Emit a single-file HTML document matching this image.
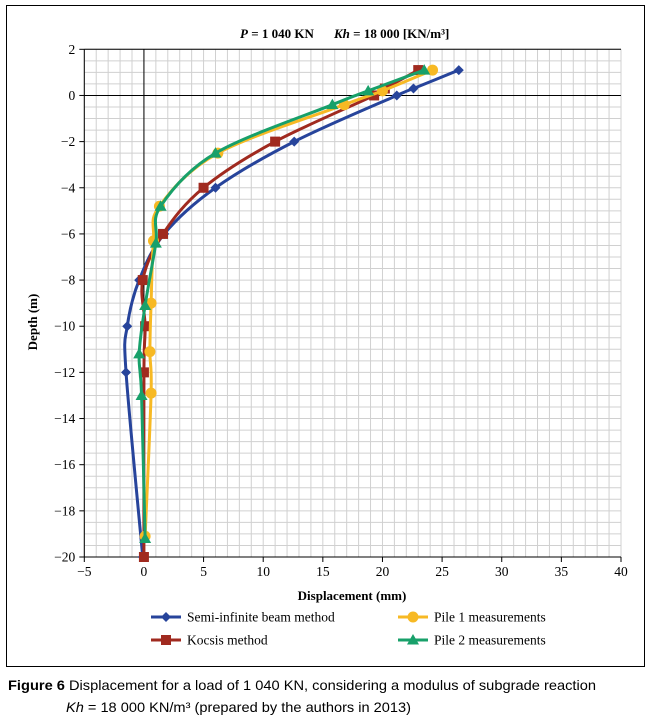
<!DOCTYPE html>
<html><head><meta charset="utf-8"><style>
body{margin:0;background:#fff;}
svg{display:block;font-family:"Liberation Serif",serif;}
</style></head><body>
<svg width="647" height="719" viewBox="0 0 647 719" xmlns="http://www.w3.org/2000/svg">
<rect x="6.5" y="5.5" width="638" height="661" fill="none" stroke="#000" stroke-width="1"/>
<g id="grid"></g>
<g id="axes"></g>
<g id="series"></g>
<text x="240" y="38" font-size="13" font-weight="bold"><tspan font-style="italic">P</tspan> = 1 040 KN</text>
<text x="334" y="38" font-size="13" font-weight="bold"><tspan font-style="italic">Kh</tspan> = 18 000 [KN/m³]</text>
<text x="352" y="600" text-anchor="middle" font-size="13" font-weight="bold">Displacement (mm)</text>
<text transform="translate(37,322) rotate(-90)" text-anchor="middle" font-size="13" font-weight="bold">Depth (m)</text>
<g id="legend"></g>
<text x="8" y="690" font-family="Liberation Sans, sans-serif" font-size="14" textLength="588" lengthAdjust="spacingAndGlyphs"><tspan font-weight="bold">Figure 6</tspan> Displacement for a load of 1 040 KN, considering a modulus of subgrade reaction</text>
<text x="66" y="712" font-family="Liberation Sans, sans-serif" font-size="14" textLength="345" lengthAdjust="spacingAndGlyphs"><tspan font-style="italic">Kh</tspan> = 18 000 KN/m³ (prepared by the authors in 2013)</text>
</svg>
<script>
const xTicks=[-5,0,5,10,15,20,25,30,35,40];
const yTicks=[2,0,-2,-4,-6,-8,-10,-12,-14,-16,-18,-20];
const seriesNames=["Semi-infinite beam method","Kocsis method","Pile 1 measurements","Pile 2 measurements"];
const blueX=[26.4,22.6,21.2,12.6,6.0,1.7,-0.4,-1.4,-1.5,-0.1];
const blueY=[1.1,0.3,0,-2,-4,-6,-8,-10,-12,-20];
const redX=[23.0,20.2,19.3,11.0,5.0,1.6,-0.1,0.1,0.0,0.0];
const redY=[1.1,0.3,0,-2,-4,-6,-8,-10,-12,-20];
const yellowX=[24.2,20.0,16.8,6.2,1.3,0.8,0.6,0.5,0.6,0.1];
const yellowY=[1.1,0.2,-0.4,-2.5,-4.8,-6.3,-9,-11.1,-12.9,-19.1];
const greenX=[23.5,18.8,15.8,6.0,1.4,1.0,0.1,-0.4,-0.2,0.1];
const greenY=[1.1,0.2,-0.4,-2.5,-4.8,-6.4,-9.1,-11.2,-13,-19.2];

const NS="http://www.w3.org/2000/svg";
const L=84.3,R=621,T=49.3,B=557;
const sx=v=>L+(v+5)/45*(R-L);
const sy=v=>T+(2-v)/22*(B-T);
function mk(tag,attrs,parent){const e=document.createElementNS(NS,tag);for(const k in attrs)e.setAttribute(k,attrs[k]);parent.appendChild(e);return e;}
const grid=document.getElementById('grid'),axes=document.getElementById('axes'),ser=document.getElementById('series'),leg=document.getElementById('legend');
for(let v=-5;v<=40;v+=1){const l=mk('line',{x1:sx(v),x2:sx(v),y1:T,y2:B,stroke:'#d0d0d0','stroke-width':1},grid);

}
for(let v=2;v>=-20;v-=0.5){const l=mk('line',{x1:L,x2:R,y1:sy(v),y2:sy(v),stroke:'#d0d0d0','stroke-width':1},grid);

}
mk('line',{x1:L,x2:L,y1:T,y2:B,stroke:'#000'},axes);
mk('line',{x1:L,x2:R,y1:B,y2:B,stroke:'#000'},axes);
mk('line',{x1:L,x2:R,y1:T,y2:T,stroke:'#000'},axes);
mk('line',{x1:sx(0),x2:sx(0),y1:T,y2:B,stroke:'#000'},axes);
mk('line',{x1:L,x2:R,y1:sy(0),y2:sy(0),stroke:'#000'},axes);
xTicks.forEach(v=>{mk('line',{x1:sx(v),x2:sx(v),y1:B,y2:B+5,stroke:'#000'},axes);
const t=mk('text',{x:sx(v),y:B+19,'text-anchor':'middle','font-size':13.5},axes);t.textContent=(v<0?'\u2212'+(-v):v);

});
yTicks.forEach(v=>{mk('line',{x1:L-5,x2:L,y1:sy(v),y2:sy(v),stroke:'#000'},axes);
const t=mk('text',{x:L-9,y:sy(v)+4.5,'text-anchor':'end','font-size':13.5},axes);t.textContent=(v<0?'\u2212'+(-v):v);

});
function smooth(p){let d=`M${p[0][0]},${p[0][1]}`;for(let i=0;i<p.length-1;i++){const p0=p[i-1]||p[i],p1=p[i],p2=p[i+1],p3=p[i+2]||p2;
d+=` C${p1[0]+(p2[0]-p0[0])/6},${p1[1]+(p2[1]-p0[1])/6} ${p2[0]-(p3[0]-p1[0])/6},${p2[1]-(p3[1]-p1[1])/6} ${p2[0]},${p2[1]}`;}return d;}
function marker(type,x,y,c,parent){
 if(type==='d')return mk('polygon',{points:`${x},${y-5} ${x+5},${y} ${x},${y+5} ${x-5},${y}`,fill:c},parent);
 if(type==='s')return mk('rect',{x:x-5,y:y-5,width:10,height:10,fill:c},parent);
 if(type==='c')return mk('circle',{cx:x,cy:y,r:5.5,fill:c},parent);
 return mk('polygon',{points:`${x},${y-6} ${x+6},${y+4.5} ${x-6},${y+4.5}`,fill:c},parent);}
const defs=[[blueX,blueY,'#27449b','d','semi-infinite-beam'],[redX,redY,'#a02a1f','s','kocsis'],[yellowX,yellowY,'#f7b924','c','pile-1'],[greenX,greenY,'#18a06a','t','pile-2']];
[0,1,2,3].forEach(i=>{const [xs,ys,c,m,n]=defs[i];const g=mk('g',{},ser);


const pts=xs.map((v,k)=>[sx(v),sy(ys[k])]);
mk('path',{d:smooth(pts),fill:'none',stroke:c,'stroke-width':3},g);
pts.forEach(p=>{const e=marker(m,p[0],p[1],c,g);

});});
const lpos=[[166,617],[166,640],[413,617],[413,640]];
defs.forEach((d,i)=>{const [x,y]=lpos[i];const g=mk('g',{},leg);


mk('line',{x1:x-15,x2:x+15,y1:y,y2:y,stroke:d[2],'stroke-width':3},g);marker(d[3],x,y,d[2],g);
const t=mk('text',{x:x+21,y:y+4.5,'font-size':13.5},g);t.textContent=seriesNames[i];});
</script>
</body></html>
